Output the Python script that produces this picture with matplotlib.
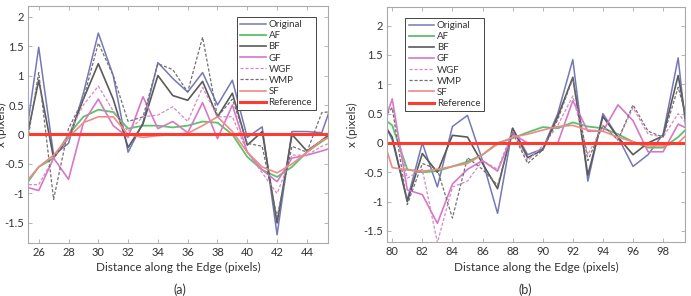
import numpy as np
import matplotlib
matplotlib.use("Agg")
import matplotlib.pyplot as plt

plt.rcParams['font.family'] = ['Lato', 'DejaVu Sans']

# Panel (a): positions 25..46
xa = np.arange(25, 47)
orig_a = [-0.3, 1.48, -0.35, -0.15, 0.7, 1.72, 1.0, -0.3, 0.2, 1.22, 0.95, 0.72, 1.05, 0.5, 0.92, -0.05, 0.13, -1.7, 0.05, 0.05, 0.03, 0.75]
af_a = [-0.9, -0.55, -0.4, 0.0, 0.3, 0.42, 0.38, 0.1, 0.15, 0.15, 0.12, 0.15, 0.22, 0.2, 0.0, -0.38, -0.6, -0.72, -0.55, -0.3, -0.12, 0.05]
bf_a = [-0.3, 0.92, -0.4, -0.05, 0.6, 1.2, 0.6, -0.22, 0.18, 1.0, 0.66, 0.58, 0.9, 0.3, 0.7, -0.18, 0.05, -1.5, 0.0, -0.28, -0.1, 0.1]
gf_a = [-0.88, -0.95, -0.4, -0.76, 0.2, 0.6, 0.15, -0.05, 0.64, 0.1, 0.22, 0.03, 0.54, -0.07, 0.5, -0.3, -0.6, -0.8, -0.4, -0.35, -0.28, -0.2]
wgf_a = [-0.85, -0.85, -0.4, 0.0, 0.5, 0.82, 0.4, 0.05, 0.3, 0.33, 0.47, 0.22, 0.8, 0.3, 0.3, -0.3, -0.65, -1.0, -0.35, -0.35, -0.2, -0.1]
wmp_a = [-0.5, 1.05, -1.1, 0.1, 0.6, 1.55, 1.0, 0.22, 0.3, 1.2, 1.1, 0.72, 1.65, 0.3, 0.6, -0.15, -0.2, -1.4, -0.2, -0.3, 0.37, 0.4]
sf_a = [-0.85, -0.55, -0.35, -0.05, 0.2, 0.3, 0.3, 0.0, -0.05, -0.02, 0.0, 0.02, 0.15, 0.3, 0.05, -0.3, -0.55, -0.65, -0.5, -0.3, -0.1, 0.0]

# Panel (b): positions 79..100
xb = np.arange(79, 101)
orig_b = [0.6, 0.05, -0.97, 0.0, -0.75, 0.28, 0.47, -0.3, -1.2, 0.25, -0.2, -0.1, 0.5, 1.42, -0.65, 0.5, 0.1, -0.4, -0.2, 0.15, 1.45, -0.9]
af_b = [0.5, 0.3, -0.45, -0.5, -0.48, -0.4, -0.32, -0.2, 0.0, 0.08, 0.18, 0.27, 0.25, 0.35, 0.28, 0.25, 0.15, 0.02, -0.08, -0.08, 0.1, 0.35]
bf_b = [0.5, 0.1, -1.0, -0.18, -0.5, 0.13, 0.1, -0.35, -0.78, 0.25, -0.25, -0.12, 0.45, 1.12, -0.55, 0.45, 0.1, -0.2, 0.0, 0.12, 1.15, -0.3]
gf_b = [0.0, 0.75, -0.8, -0.88, -1.37, -0.7, -0.45, -0.3, -0.48, 0.15, 0.0, 0.0, 0.0, 0.72, 0.2, 0.2, 0.65, 0.38, -0.15, -0.15, 0.32, 0.2]
wgf_b = [0.3, 0.6, -0.6, -0.45, -1.7, -0.75, -0.65, -0.3, -0.45, 0.2, -0.3, -0.05, 0.3, 0.8, -0.2, 0.3, 0.05, 0.6, 0.15, 0.1, 0.5, 0.2]
wmp_b = [0.3, 0.6, -1.05, -0.35, -0.45, -1.28, -0.25, -0.45, -0.72, 0.18, -0.35, -0.12, 0.4, 1.1, -0.3, 0.3, 0.05, 0.65, 0.2, 0.1, 0.95, 0.0]
sf_b = [0.4, -0.42, -0.46, -0.48, -0.45, -0.4, -0.35, -0.2, -0.02, 0.1, 0.15, 0.22, 0.28, 0.3, 0.22, 0.2, 0.1, 0.02, -0.05, -0.05, 0.0, 0.25]

names = ['Original', 'AF', 'BF', 'GF', 'WGF', 'WMP', 'SF', 'Reference']
styles = [
    dict(color='#7478b8', lw=1.1, ls='-'),
    dict(color='#5cc26a', lw=1.3, ls='-'),
    dict(color='#5a5a5a', lw=1.2, ls='-'),
    dict(color='#d877c8', lw=1.2, ls='-'),
    dict(color='#d48ac0', lw=0.9, ls=(0, (2.5, 1.5))),
    dict(color='#707070', lw=0.9, ls=(0, (2.5, 1.5))),
    dict(color='#f08a88', lw=1.2, ls='-'),
    dict(color='#ff3b2f', lw=2.2, ls='-'),
]

fig = plt.figure(figsize=(6.91, 2.96), dpi=100)
ax1 = fig.add_axes([0.0405, 0.179, 0.434, 0.801])
ax2 = fig.add_axes([0.560, 0.182, 0.431, 0.795])


def draw(ax, x, series, xlim, ylim, xticks, legend_loc, anchor, ylab_x):
    for y, st, nm in zip(series, styles, names):
        ax.plot(x, y, label=nm, **st)
    ax.plot(x, np.zeros(len(x)), label='Reference', **styles[-1])
    ax.set_xlim(*xlim)
    ax.set_ylim(*ylim)
    ax.set_xticks(xticks)
    ax.set_yticks([-1.5, -1, -0.5, 0, 0.5, 1, 1.5, 2])
    ax.set_yticklabels(['-1.5', '-1', '-0.5', '0', '0.5', '1', '1.5', '2'])
    ax.tick_params(direction='in', length=3, width=0.6, top=True, right=True,
                   labelsize=8, colors='#aaaaaa', labelcolor='#333333', pad=3)
    for sp in ax.spines.values():
        sp.set_color('#aaaaaa')
        sp.set_linewidth(0.8)
    ax.set_xlabel('Distance along the Edge (pixels)', fontsize=8.5, color='#333333', labelpad=3)
    ax.set_ylabel('x (pixels)', fontsize=8.5, color='#333333')
    ax.yaxis.set_label_coords(ylab_x, 0.5)
    leg = ax.legend(loc=legend_loc, bbox_to_anchor=anchor, fontsize=7,
                    handlelength=2.6, labelspacing=0.22, borderpad=0.35,
                    handletextpad=0.3, fancybox=False, framealpha=1)
    leg.get_frame().set_edgecolor('#444444')
    leg.get_frame().set_linewidth(0.7)
    for t in leg.get_texts():
        t.set_color('#333333')


draw(ax1, xa, [orig_a, af_a, bf_a, gf_a, wgf_a, wmp_a, sf_a], (25.28, 45.41), (-1.84, 2.18),
     [26, 28, 30, 32, 34, 36, 38, 40, 42, 44], 'upper right', (0.975, 0.975), -0.07)
draw(ax2, xb, [orig_b, af_b, bf_b, gf_b, wgf_b, wmp_b, sf_b], (79.65, 99.44), (-1.69, 2.32),
     [80, 82, 84, 86, 88, 90, 92, 94, 96, 98], 'upper left', (0.045, 0.975), -0.097)

fig.text(180 / 691, 1 - 290 / 296, '(a)', ha='center', va='center', fontsize=9, color='#333333')
fig.text(525 / 691, 1 - 290 / 296, '(b)', ha='center', va='center', fontsize=9, color='#333333')

fig.savefig('out.png', dpi=100)
